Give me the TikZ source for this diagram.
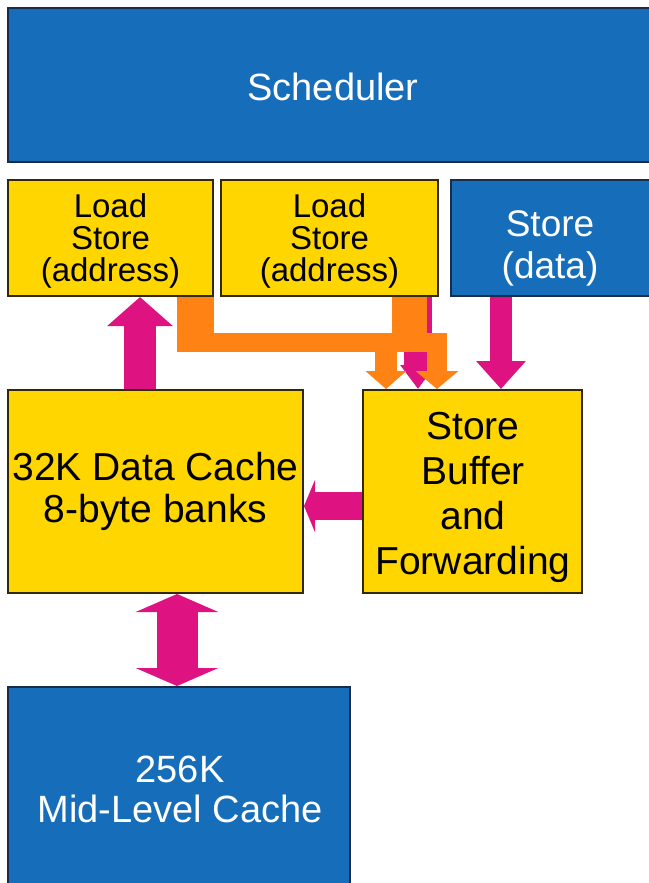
\documentclass[tikz,border=0pt]{standalone}
\usepackage{fontspec}
\setmainfont{Liberation Sans}
\usetikzlibrary{arrows.meta}
\definecolor{boxblue}{RGB}{22,110,186}
\definecolor{boxyellow}{RGB}{255,214,0}
\definecolor{magarrow}{RGB}{222,18,128}
\definecolor{orarrow}{RGB}{255,130,20}
\definecolor{blueedge}{RGB}{25,45,75}
\definecolor{yellowedge}{RGB}{50,40,10}
\begin{document}
\begin{tikzpicture}[x=1pt,y=-1pt,
  bluebox/.style={draw=blueedge, line width=2pt, fill=boxblue, inner sep=0pt},
  yellowbox/.style={draw=yellowedge, line width=2pt, fill=boxyellow, inner sep=0pt},
  bigtext/.style={font=\fontsize{39}{45}\selectfont, align=center},
  smalltext/.style={font=\fontsize{33}{32}\selectfont, align=center},
  magflow/.style={draw=magarrow, line width=#1},
  orflow/.style={draw=orarrow, line width=#1},
]
\useasboundingbox (0,0) rectangle (648,883);
\fill[white] (0,0) rectangle (648,883);

% boxes
\node[bluebox, minimum width=652pt, minimum height=154pt] (sched) at (334,85) {};
\node[bigtext, text=white, font=\fontsize{38}{44}\selectfont] (schedt) at (333,87) {Scheduler};

\node[yellowbox, minimum width=205pt, minimum height=116pt] (ls1) at (110.5,238) {};
\node[smalltext] (ls1t) at (110.5,241) {Load\\Store\\(address)};
\node[yellowbox, minimum width=217pt, minimum height=116pt] (ls2) at (329.5,238) {};
\node[smalltext] (ls2t) at (329.5,241) {Load\\Store\\(address)};
\node[bluebox, minimum width=209pt, minimum height=116pt] (sd) at (555.5,238) {};
\node[text=white, align=center, font=\fontsize{37}{42}\selectfont] (sdt) at (550,248) {Store\\(data)};

\node[yellowbox, minimum width=295pt, minimum height=203pt, bigtext, font=\fontsize{39}{42}\selectfont] (dc) at (155.5,491.5) {32K Data Cache\\8-byte banks};
\node[yellowbox, minimum width=219pt, minimum height=203pt] (sb) at (472.5,491.5) {};
\node[bigtext] (sbt) at (473,497) {Store\\Buffer\\and\\Forwarding};

\node[bluebox, minimum width=342pt, minimum height=213pt] (mlc) at (179,793.5) {};
\node[text=white, align=center, font=\fontsize{38}{40}\selectfont] (mlct) at (180,789) {256K\\Mid-Level Cache};

% helper x positions
\coordinate (xup) at (140,0);
\coordinate (xsd) at (501,0);
\coordinate (xleft) at (0,506);
\coordinate (xdbl) at (177,0);
\coordinate (xm) at (418,0);
\coordinate (xo1) at (386,0);
\coordinate (xo2) at (437,0);
\coordinate (xs2) at (392,0);
\coordinate (barL) at (177,342.5);
\coordinate (barR) at (447,342.5);

% magenta arrows
\draw[magflow=32pt, -{Triangle[width=64pt,length=29pt]}] (dc.north -| xup) -- (ls1.south -| xup);
\draw[magflow=22pt, -{Triangle[width=48pt,length=28pt]}] (sd.south -| xsd) -- (sb.north -| xsd);
\draw[magflow=28pt, -{Triangle[width=52pt,length=11pt]}] (sb.west |- xleft) -- (dc.east |- xleft);
\draw[magflow=41pt, {Triangle[width=82pt,length=18pt]}-{Triangle[width=82pt,length=18pt]}] (dc.south -| xdbl) -- (mlc.north -| xdbl);
\draw[magflow=28pt, -{Triangle[width=34pt,length=24pt]}] (ls2.south -| xm) -- (sb.north -| xm);

% orange structure
\fill[orarrow] (ls1.south -| barL) rectangle (214,352);
\fill[orarrow] (ls2.south -| xs2) rectangle (427,352);
\draw[orflow=19pt] (barL) -- (barR);
\draw[orflow=22pt, -{Triangle[width=40pt,length=18pt]}] (386,351) -- (sb.north -| xo1);
\draw[orflow=20pt, -{Triangle[width=42pt,length=18pt]}] (437,351) -- (sb.north -| xo2);
\end{tikzpicture}
\end{document}
